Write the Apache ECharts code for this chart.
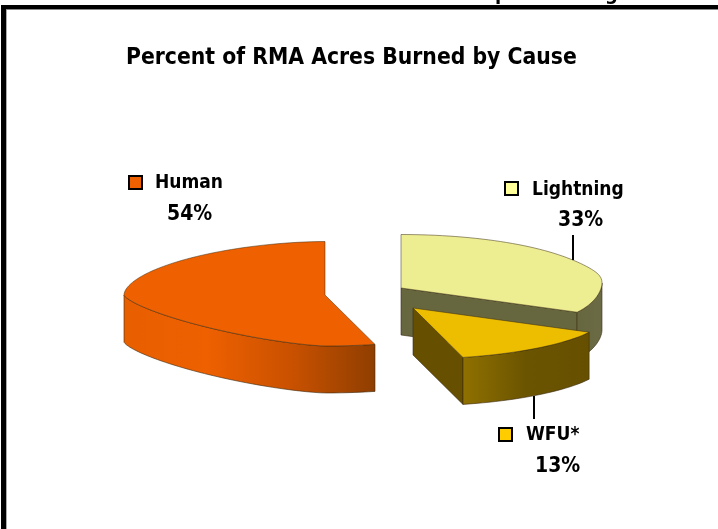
<!DOCTYPE html>
<html>
<head>
<meta charset="utf-8">
<style>
  html, body { margin: 0; padding: 0; background: #fff; }
  #chart { width: 718px; height: 529px; }
</style>
<script src="https://cdn.jsdelivr.net/npm/echarts@6/dist/echarts.min.js"></script>
</head>
<body>
<div id="chart"></div>
<script>
// clockwise from 12 o'clock, same order as the original pie
const categories = ['Lightning', 'WFU*', 'Human']
const percents = [33, 13, 54]
const chartTitle = 'Percent of RMA Acres Burned by Cause'

const fontName = '"DejaVu Sans Condensed", "DejaVu Sans", sans-serif'
const rx = 201
const ryBack = 53.5
const ryFront = 51
const depth = 47

// per slice look, index matches categories
const sliceStyle = [
  {
    cx: 401, cy: 288, top: '#eded91', swatch: '#ffff99',
    face: '#66663f', wall: ['#66663f', '#6b6b45'],
    swatchX: 505, swatchY: 182, nameX: 532, nameY: 190, pctX: 558, pctY: 221,
    leader: [573, 235, 573, 260]
  },
  {
    cx: 413, cy: 308, top: '#edbe00', swatch: '#ffcc00',
    face: '#665000', wall: ['#8f7000', '#6b5400', '#665000'],
    swatchX: 499, swatchY: 428, nameX: 526, nameY: 435, pctX: 535, pctY: 467,
    leader: [534, 396, 534, 419]
  },
  {
    cx: 325, cy: 295, top: '#ee6000', swatch: '#ee6000',
    face: null, wall: ['#e85f00', '#ee6000', '#c95100', '#8f3e00'],
    swatchX: 129, swatchY: 176, nameX: 155, nameY: 183, pctX: 167, pctY: 215,
    leader: null
  }
]

const toRad = (d) => d * Math.PI / 180
const total = percents.reduce((a, b) => a + b, 0)
const edge = '#3a2a10'

// the source drawing is not a clean ellipse: the left side comes to more of a
// point and the right tip sits a little high
function rimPoint (s, deg, drop) {
  const sin = Math.sin(toRad(deg))
  const cos = Math.cos(toRad(deg))
  const t = Math.abs(sin)
  let y
  if (sin >= 0) {
    y = (cos >= 0 ? -ryBack : ryFront) * Math.abs(cos) - 5 * Math.pow(t, 20)
  } else if (cos >= 0) {
    y = -ryBack * Math.pow(1 - Math.pow(t, 1.8), 1 / 1.8)
  } else {
    y = ryFront * Math.pow(1 - Math.pow(t, 1.4), 1 / 1.4)
  }
  return [s.cx + rx * sin, s.cy + y + (drop || 0)]
}

function arcPoints (s, from, to, drop) {
  const pts = []
  const steps = Math.max(2, Math.ceil((to - from) / 2))
  for (let i = 0; i <= steps; i++) {
    pts.push(rimPoint(s, from + (to - from) * i / steps, drop))
  }
  return pts
}

function renderSlice (params, api) {
  const i = params.dataIndex
  const s = sliceStyle[i]
  const value = api.value(1)
  let before = 0
  for (let k = 0; k < i; k++) before += percents[k]
  const a0 = before / total * 360
  const a1 = (before + value) / total * 360
  const kids = []

  // cut face that looks toward the viewer
  if (s.face) {
    const rim = rimPoint(s, a1)
    kids.push({
      type: 'polygon',
      shape: { points: [[s.cx, s.cy], rim, [rim[0], rim[1] + depth], [s.cx, s.cy + depth]] },
      style: { fill: s.face, stroke: edge, lineWidth: 0.6 }
    })
  }

  // outer wall, only the part of the rim on the front half
  const wallFrom = Math.max(a0, 90)
  const wallTo = Math.min(a1, 270)
  if (wallTo > wallFrom) {
    const up = arcPoints(s, wallFrom, wallTo, 0)
    const down = arcPoints(s, wallFrom, wallTo, depth).reverse()
    const stops = s.wall.map((c, n) => ({ offset: n / (s.wall.length - 1), color: c }))
    kids.push({
      type: 'polygon',
      shape: { points: up.concat(down) },
      style: {
        fill: new echarts.graphic.LinearGradient(0, 0, 1, 0, stops),
        stroke: edge,
        lineWidth: 0.6
      }
    })
  }

  // top
  kids.push({
    type: 'polygon',
    shape: { points: [[s.cx, s.cy]].concat(arcPoints(s, a0, a1, 0)) },
    style: { fill: s.top, stroke: edge, lineWidth: 0.5 }
  })

  // leader, swatch and labels
  if (s.leader) {
    kids.push({
      type: 'line',
      shape: { x1: s.leader[0], y1: s.leader[1], x2: s.leader[2], y2: s.leader[3] },
      style: { stroke: '#000', lineWidth: 2 }
    })
  }
  kids.push({
    type: 'rect',
    shape: { x: s.swatchX, y: s.swatchY, width: 13, height: 13 },
    style: { fill: s.swatch, stroke: '#000', lineWidth: 2 }
  })
  kids.push({
    type: 'text',
    style: {
      text: api.value(0), x: s.nameX, y: s.nameY, fill: '#000',
      font: 'bold 19px ' + fontName, textVerticalAlign: 'middle'
    }
  })
  kids.push({
    type: 'text',
    style: {
      text: value + '%', x: s.pctX, y: s.pctY, fill: '#000',
      font: 'bold 21px ' + fontName, textVerticalAlign: 'middle'
    }
  })
  return { type: 'group', children: kids }
}

const chart = echarts.init(document.getElementById('chart'))
chart.setOption({
  animation: false,
  backgroundColor: '#fff',
  title: {
    text: chartTitle,
    left: 121,
    top: 42,
    textStyle: { color: '#000', fontFamily: fontName, fontWeight: 'bold', fontSize: 22.7 }
  },
  graphic: [
    // frame of the slide, plus the bit of text cut off above it
    { type: 'text', style: { text: 'p', x: 495, y: -15, fill: '#000', font: 'bold 20px ' + fontName } },
    { type: 'text', style: { text: 'g', x: 605, y: -15, fill: '#000', font: 'bold 20px ' + fontName } },
    { type: 'rect', shape: { x: 1, y: 5, width: 717, height: 4 }, style: { fill: '#000' } },
    { type: 'rect', shape: { x: 1, y: 9, width: 717, height: 1 }, style: { fill: '#888' } },
    { type: 'rect', shape: { x: 1, y: 5, width: 5, height: 524 }, style: { fill: '#000' } },
    { type: 'rect', shape: { x: 6, y: 10, width: 1, height: 519 }, style: { fill: '#aaa' } }
  ],
  series: [
    {
      type: 'custom',
      coordinateSystem: 'none',
      silent: true,
      renderItem: renderSlice,
      data: categories.map((c, i) => [c, percents[i]])
    }
  ]
})
</script>
</body>
</html>
